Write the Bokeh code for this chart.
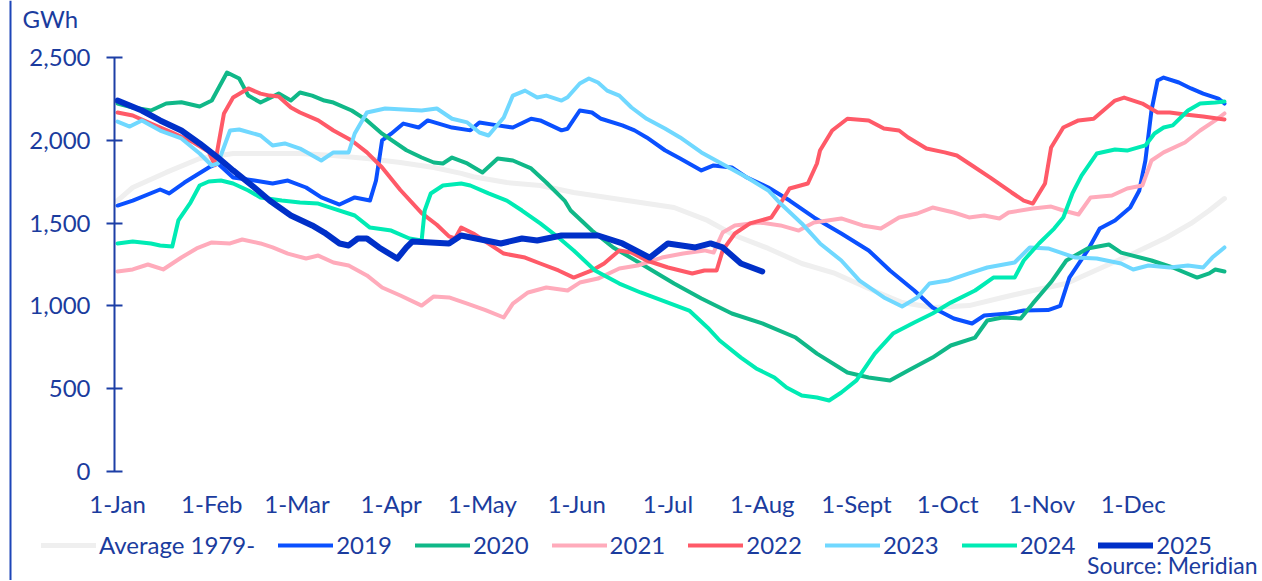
from bokeh.plotting import figure
from bokeh.models import Legend, LegendItem, Label, Span, FixedTicker, NumeralTickFormatter, Range1d
from bokeh.embed import file_html
from bokeh.resources import INLINE

# ---------------- data (day of year, GWh) ----------------
month_days = [0, 31, 59, 90, 120, 151, 181, 212, 243, 273, 304, 334]
month_labels = ["1-Jan", "1-Feb", "1-Mar", "1-Apr", "1-May", "1-Jun",
                "1-Jul", "1-Aug", "1-Sept", "1-Oct", "1-Nov", "1-Dec"]
y_ticks = [0, 500, 1000, 1500, 2000, 2500]

avg_days = [0, 5, 16, 27, 38, 49, 60, 71, 82, 93, 104, 113, 117, 128, 139, 150, 161, 172, 183, 194,
            203, 214, 225, 236, 247, 258, 268, 280, 291, 301, 312, 323, 334, 345, 353, 359, 364]
avg_gwh = [1636, 1715, 1806, 1890, 1920, 1920, 1920, 1908, 1890, 1866, 1836, 1800, 1780, 1745, 1727, 1685,
           1655, 1624, 1594, 1516, 1425, 1347, 1256, 1196, 1105, 1020, 990, 1002, 1051, 1093, 1135, 1226,
           1316, 1413, 1498, 1576, 1648]

d2019 = [0, 5, 14, 17, 22, 30, 33, 38, 45, 51, 56, 62, 67, 73, 78, 83, 85, 87, 90, 94, 99, 102, 110, 116,
         119, 125, 130, 136, 139, 146, 148, 152, 156, 159, 166, 170, 174, 180, 185, 192, 196, 202, 207, 214,
         221, 229, 238, 247, 254, 262, 268, 275, 281, 285, 293, 298, 306, 310, 313, 319, 323, 328, 333, 336,
         338, 340, 342, 344, 349, 353, 357, 362, 364]
g2019 = [1606, 1636, 1703, 1679, 1745, 1836, 1860, 1775, 1757, 1739, 1757, 1715, 1655, 1612, 1655, 1636,
         1757, 2000, 2040, 2101, 2077, 2120, 2077, 2060, 2108, 2090, 2077, 2130, 2120, 2060, 2070, 2180,
         2168, 2130, 2090, 2060, 2017, 1940, 1890, 1818, 1848, 1836, 1775, 1715, 1636, 1534, 1437, 1335,
         1214, 1093, 990, 924, 894, 942, 954, 972, 975, 1000, 1171, 1335, 1467, 1516, 1594, 1697, 1878,
         2180, 2361, 2379, 2349, 2313, 2282, 2252, 2222]

d2020 = [0, 5, 11, 16, 21, 27, 31, 36, 40, 43, 47, 53, 57, 60, 64, 68, 71, 77, 82, 87, 95, 100, 104, 107,
         110, 115, 120, 125, 130, 136, 141, 147, 149, 156, 163, 172, 183, 192, 202, 212, 223, 230, 240, 247,
         254, 260, 268, 274, 282, 286, 291, 297, 301, 307, 312, 319, 326, 330, 340, 347, 355, 359, 361, 364]
g2020 = [2222, 2198, 2180, 2222, 2230, 2204, 2240, 2409, 2373, 2270, 2228, 2282, 2240, 2289, 2270, 2240,
         2228, 2180, 2120, 2040, 1940, 1896, 1866, 1860, 1896, 1860, 1806, 1890, 1878, 1830, 1745, 1636,
         1576, 1455, 1353, 1256, 1135, 1045, 954, 894, 809, 712, 598, 568, 550, 610, 688, 761, 809, 912,
         930, 924, 1015, 1144, 1274, 1347, 1371, 1322, 1274, 1232, 1171, 1196, 1220, 1208]

d2021 = [0, 5, 10, 15, 21, 26, 31, 37, 41, 47, 51, 56, 62, 66, 71, 76, 82, 87, 93, 100, 104, 109, 115, 121,
         127, 130, 135, 141, 148, 152, 158, 165, 171, 179, 186, 193, 196, 199, 203, 211, 218, 224, 229, 238,
         245, 251, 257, 263, 268, 275, 280, 285, 290, 293, 301, 307, 311, 316, 320, 327, 332, 337, 340, 344,
         351, 356, 361, 364]
g2021 = [1208, 1220, 1250, 1220, 1292, 1347, 1383, 1377, 1401, 1377, 1353, 1316, 1286, 1304, 1262, 1244,
         1184, 1111, 1063, 1002, 1057, 1051, 1014, 975, 930, 1014, 1081, 1111, 1093, 1141, 1165, 1226, 1244,
         1292, 1316, 1335, 1322, 1443, 1486, 1504, 1486, 1455, 1504, 1528, 1486, 1467, 1534, 1558, 1594,
         1564, 1534, 1546, 1528, 1564, 1588, 1600, 1576, 1552, 1655, 1667, 1709, 1727, 1878, 1927, 1987,
         2059, 2120, 2162]

d2022 = [0, 5, 11, 18, 25, 30, 32, 33, 35, 38, 43, 47, 50, 53, 57, 60, 66, 71, 77, 82, 87, 93, 100, 105,
         109, 111, 113, 117, 127, 134, 139, 145, 150, 156, 160, 165, 169, 174, 181, 189, 193, 197, 199, 203,
         208, 215, 218, 221, 227, 230, 231, 235, 240, 247, 252, 257, 260, 266, 272, 276, 281, 287, 294, 298,
         301, 305, 307, 311, 316, 321, 328, 331, 337, 342, 346, 351, 357, 364]
g2022 = [2168, 2150, 2101, 2047, 1987, 1930, 1850, 1957, 2162, 2258, 2313, 2282, 2270, 2265, 2198, 2168,
         2120, 2059, 1999, 1927, 1836, 1700, 1560, 1490, 1420, 1407, 1473, 1437, 1316, 1292, 1256, 1214,
         1171, 1214, 1256, 1335, 1322, 1274, 1232, 1196, 1214, 1214, 1335, 1437, 1498, 1534, 1618, 1709,
         1739, 1860, 1938, 2059, 2130, 2120, 2071, 2059, 2017, 1950, 1927, 1908, 1848, 1775, 1685, 1636,
         1618, 1739, 1957, 2077, 2120, 2130, 2240, 2258, 2222, 2168, 2168, 2156, 2144, 2126]

d2023 = [0, 4, 8, 14, 21, 27, 31, 33, 37, 40, 47, 51, 55, 60, 67, 71, 76, 78, 82, 88, 100, 105, 110, 115,
         119, 122, 127, 130, 134, 138, 141, 146, 148, 152, 155, 158, 161, 165, 169, 174, 180, 185, 192, 201,
         207, 214, 218, 225, 231, 238, 244, 252, 258, 263, 267, 273, 280, 286, 295, 300, 306, 315, 322, 330,
         334, 339, 346, 352, 357, 360, 364]
g2023 = [2113, 2083, 2120, 2059, 2011, 1920, 1848, 1860, 2059, 2065, 2029, 1969, 1981, 1950, 1878, 1927,
         1927, 2041, 2168, 2192, 2180, 2192, 2130, 2108, 2047, 2029, 2138, 2270, 2300, 2258, 2270, 2240,
         2260, 2343, 2373, 2349, 2300, 2270, 2198, 2130, 2071, 2017, 1927, 1836, 1775, 1697, 1618, 1498,
         1377, 1274, 1153, 1051, 996, 1051, 1135, 1153, 1196, 1232, 1262, 1353, 1347, 1292, 1286, 1256,
         1220, 1244, 1232, 1244, 1232, 1292, 1353]

d2024 = [0, 5, 11, 14, 18, 20, 24, 27, 30, 34, 38, 43, 47, 54, 60, 66, 71, 78, 83, 90, 96, 100, 101, 103,
         107, 113, 116, 122, 128, 133, 139, 145, 150, 157, 165, 172, 181, 188, 194, 198, 205, 210, 216, 220,
         225, 230, 234, 238, 243, 249, 255, 262, 268, 274, 282, 288, 295, 298, 303, 308, 311, 314, 317, 322,
         328, 332, 338, 341, 344, 347, 352, 356, 361, 364]
g2024 = [1377, 1389, 1377, 1365, 1359, 1516, 1624, 1727, 1751, 1757, 1739, 1697, 1655, 1636, 1624, 1618,
         1588, 1546, 1473, 1455, 1407, 1395, 1576, 1679, 1727, 1739, 1727, 1679, 1636, 1576, 1498, 1413,
         1335, 1214, 1135, 1081, 1020, 972, 870, 791, 688, 622, 568, 507, 459, 447, 429, 477, 550, 712,
         833, 900, 954, 1020, 1093, 1171, 1171, 1274, 1377, 1467, 1534, 1679, 1787, 1920, 1944, 1938,
         1969, 2041, 2077, 2090, 2180, 2222, 2228, 2234]

d2025 = [0, 8, 14, 21, 27, 33, 38, 45, 50, 57, 64, 68, 73, 76, 79, 82, 86, 92, 95, 97, 103, 109, 113, 126,
         133, 138, 146, 158, 166, 175, 181, 190, 195, 199, 205, 212]
g2025 = [2240, 2180, 2120, 2059, 1981, 1896, 1818, 1715, 1636, 1546, 1486, 1443, 1377, 1365, 1407, 1407,
         1353, 1286, 1353, 1389, 1383, 1377, 1425, 1377, 1407, 1395, 1425, 1425, 1377, 1292, 1377, 1353,
         1377, 1353, 1256, 1208]

series = [
    ("Average 1979-", avg_days, avg_gwh, "#efefef", 5),
    ("2019", d2019, g2019, "#0a50ff", 4),
    ("2020", d2020, g2020, "#10b888", 4),
    ("2021", d2021, g2021, "#ffabbb", 4),
    ("2022", d2022, g2022, "#ff5a68", 4),
    ("2023", d2023, g2023, "#70d8ff", 4),
    ("2024", d2024, g2024, "#00ebb4", 4),
    ("2025", d2025, g2025, "#0030c8", 6),
]

TEXT = "#1b3c9e"
AXIS = "#1d3fa6"
FONT = "Lato"
FS = "24px"

# layout (pixels) -> data ranges, so that the whole canvas is the plotting frame
W, H = 1260, 580
AX_X, X_END = 114, 1227        # pixel of day -1 and day 365
Y0_PX, Y2500_PX = 471, 57      # pixel of 0 GWh and 2500 GWh
ppd = (X_END - AX_X) / 366.0
ppv = (Y0_PX - Y2500_PX) / 2500.0
x_start = -1 - AX_X / ppd
x_end = -1 + (W - AX_X) / ppd
y_start = -(H - Y0_PX) / ppv
y_end = Y0_PX / ppv

def xd(px):
    return x_start + px / ppd

def yd(py):
    return (Y0_PX - py) / ppv

p = figure(width=W, height=H, x_range=Range1d(x_start, x_end), y_range=Range1d(y_start, y_end),
           output_backend="svg", toolbar_location=None,
           min_border_left=0, min_border_right=0, min_border_top=0, min_border_bottom=0,
           background_fill_color="white", border_fill_color="white")
p.title.visible = False
p.outline_line_color = None
p.grid.visible = False

# slide border line at left
p.add_layout(Span(location=xd(10), dimension="height", line_color="#1d45b8", line_width=2))

items = []
for name, d, g, col, w in series:
    r = p.line(d, g, line_color=col, line_width=w, line_cap="round", line_join="round")
    items.append(LegendItem(label=name, renderers=[r]))

# y axis
ya = p.yaxis[0]
ya.fixed_location = -1
ya.bounds = (0, 2500)
ya.ticker = FixedTicker(ticks=y_ticks)
ya.formatter = NumeralTickFormatter(format="0,0")
ya.axis_line_color = AXIS
ya.axis_line_width = 2
ya.major_tick_line_color = AXIS
ya.major_tick_line_width = 2
ya.major_tick_in = 8
ya.major_tick_out = 8
ya.minor_tick_line_color = None
ya.major_label_text_font = FONT
ya.major_label_text_font_size = FS
ya.major_label_text_color = TEXT
ya.major_label_standoff = 16

# x axis
xa = p.xaxis[0]
xa.fixed_location = 0
xa.ticker = FixedTicker(ticks=month_days)
xa.major_label_overrides = {d: l for d, l in zip(month_days, month_labels)}
xa.axis_line_color = None
xa.major_tick_line_color = None
xa.minor_tick_line_color = None
xa.major_tick_in = 0
xa.major_tick_out = 0
xa.major_label_text_font = FONT
xa.major_label_text_font_size = FS
xa.major_label_text_color = TEXT
xa.major_label_standoff = 17

legend = Legend(items=items, orientation="horizontal", location=(41, 21),
                glyph_width=55, glyph_height=20, label_standoff=3, spacing=23,
                padding=0, margin=0, background_fill_alpha=0, border_line_color=None,
                label_text_font=FONT, label_text_font_size=FS, label_text_color=TEXT)
p.add_layout(legend, "center")

p.add_layout(Label(x=xd(22), y=yd(18), text="GWh", text_font=FONT, text_font_size=FS,
                   text_color=TEXT, text_baseline="middle", text_align="left"))
p.add_layout(Label(x=xd(1257), y=yd(564), text="Source: Meridian", text_font=FONT, text_font_size="23px",
                   text_color=TEXT, text_baseline="middle", text_align="right"))

open("out.html", "w").write(file_html(p, INLINE))
